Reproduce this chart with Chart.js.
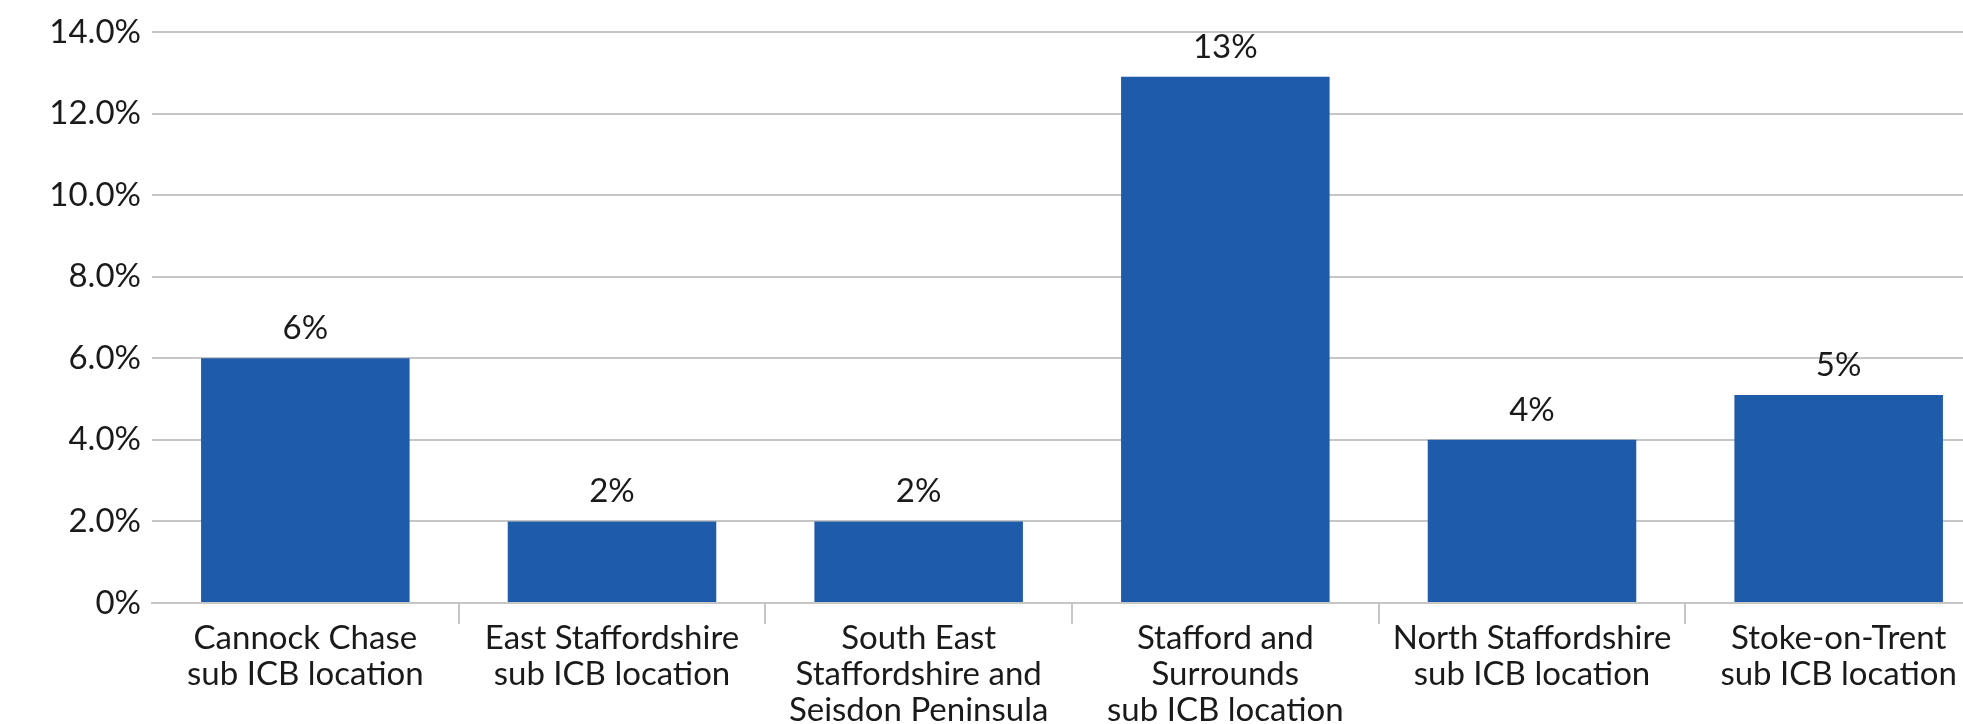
<!DOCTYPE html>
<html>
<head>
<meta charset="utf-8">
<script src="https://cdn.jsdelivr.net/npm/chart.js@4.4.1/dist/chart.umd.min.js"></script>
<style>
html,body{margin:0;padding:0;background:#fff;overflow:hidden;}
#wrap{width:2010px;height:724px;}
</style>
</head>
<body>
<div id="wrap"><canvas id="c" width="2010" height="724"></canvas></div>
<script>
const categories = [
  ["Cannock Chase", "sub ICB location"],
  ["East Staffordshire", "sub ICB location"],
  ["South East", "Staffordshire and", "Seisdon Peninsula"],
  ["Stafford and", "Surrounds", "sub ICB location"],
  ["North Staffordshire", "sub ICB location"],
  ["Stoke-on-Trent", "sub ICB location"]
];
const values = [6.0, 2.0, 2.0, 12.9, 4.0, 5.1];
const valueLabels = ["6%", "2%", "2%", "13%", "4%", "5%"];
const yTicks = [0, 2, 4, 6, 8, 10, 12, 14];

const FONT = "Lato, 'Open Sans', sans-serif";
const TEXT = '#1a1a1a';
const GRID = '#c6c6c6';

const labelPlugin = {
  id: 'valueLabels',
  afterDatasetsDraw(chart) {
    const ctx = chart.ctx;
    const meta = chart.getDatasetMeta(0);
    ctx.save();
    ctx.font = '33px ' + FONT;
    ctx.fillStyle = TEXT;
    ctx.textAlign = 'center';
    ctx.textBaseline = 'alphabetic';
    meta.data.forEach((bar, i) => {
      ctx.fillText(valueLabels[i], bar.x, bar.y - 19);
    });
    ctx.restore();
  }
};

new Chart(document.getElementById('c'), {
  type: 'bar',
  data: {
    labels: categories,
    datasets: [{
      data: values,
      backgroundColor: '#1e5caa',
      borderWidth: 0,
      barPercentage: 0.68,
      categoryPercentage: 1.0
    }]
  },
  options: {
    responsive: false,
    animation: false,
    devicePixelRatio: 1,
    layout: { padding: { top: 32, right: 18, left: 0, bottom: 0 } },
    plugins: { legend: { display: false }, tooltip: { enabled: false } },
    scales: {
      x: {
        afterFit(scale) { scale.height = 121; },
        grid: {
          display: true,
          drawOnChartArea: false,
          drawTicks: true,
          tickLength: 21,
          lineWidth: 2,
          color: (c) => (c.index === 0 ? 'rgba(0,0,0,0)' : GRID)
        },
        border: { display: true, color: GRID, width: 2 },
        ticks: {
          font: { family: FONT, size: 33, lineHeight: '36px' },
          color: TEXT,
          padding: -4,
          maxRotation: 0,
          autoSkip: false
        }
      },
      y: {
        min: 0,
        max: 14,
        afterFit(scale) { scale.width = 152; },
        afterBuildTicks(scale) { scale.ticks = yTicks.map(v => ({ value: v })); },
        grid: { color: GRID, lineWidth: 2, drawTicks: false },
        border: { display: false },
        ticks: {
          font: { family: FONT, size: 33 },
          color: TEXT,
          padding: 11,
          callback: (v) => (v === 0 ? '0%' : v.toFixed(1) + '%')
        }
      }
    }
  },
  plugins: [labelPlugin]
});
</script>
</body>
</html>
